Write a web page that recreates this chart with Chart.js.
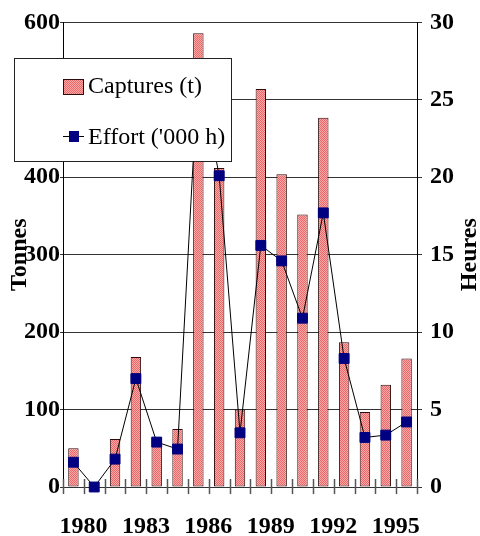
<!DOCTYPE html>
<html>
<head>
<meta charset="utf-8">
<script src="https://cdn.jsdelivr.net/npm/chart.js@4/dist/chart.umd.min.js"></script>
<style>
  html, body { margin: 0; padding: 0; background: #fff; }
  #wrap { position: relative; width: 480px; height: 536px; }
</style>
</head>
<body>
<div id="wrap"><canvas id="chart"></canvas></div>
<script>
'use strict';

// ── Data ─────────────────────────────────────────────────────────────────────
const years      = ['1980','1981','1982','1983','1984','1985','1986','1987','1988',
                    '1989','1990','1991','1992','1993','1994','1995','1996'];
const tickYears  = ['1980','1983','1986','1989','1992','1995'];
const captures   = [50, 0, 62, 168, 64, 75, 586, 412, 100, 514, 404, 352, 477, 187, 97, 132, 166];
const effort     = [1.6, 0, 1.8, 7.0, 2.9, 2.45, 27.2, 20.1, 3.5, 15.6, 14.6, 10.9, 17.7, 8.3, 3.2, 3.35, 4.2];
const leftTicks  = { min: 0, max: 600, step: 100 };
const rightTicks = { min: 0, max: 30, step: 5 };

const LABEL_CAPTURES = 'Captures (t)';
const LABEL_EFFORT   = "Effort ('000 h)";
const TITLE_LEFT     = 'Tonnes';
const TITLE_RIGHT    = 'Heures';

// ── Styles ───────────────────────────────────────────────────────────────────
const SERIF  = '"Liberation Serif", "Times New Roman", serif';
const NAVY   = '#000080';
const BAR_LN = '#2e0c0c';

function barPattern() {
  const c = document.createElement('canvas');
  c.width = 2; c.height = 2;
  const g = c.getContext('2d');
  g.fillStyle = '#ffa6a6'; g.fillRect(0, 0, 2, 2);
  g.fillStyle = '#e66a6a'; g.fillRect(0, 0, 1, 1); g.fillRect(1, 1, 1, 1);
  return g.createPattern(c, 'repeat');
}
const BAR_FILL = barPattern();

// ── Plugin: x tick marks, axis titles, legend box ────────────────────────────
const decorations = {
  id: 'decorations',
  afterDraw(chart) {
    const { ctx, chartArea, scales } = chart;
    const x = scales.x;
    ctx.save();

    // x tick marks crossing the axis, between categories
    const half = (x.getPixelForValue(1) - x.getPixelForValue(0)) / 2;
    ctx.strokeStyle = '#555';
    ctx.lineWidth = 1.5;
    for (let i = 0; i <= years.length; i++) {
      const px = Math.round(x.getPixelForValue(i) - half) + 0.5;
      ctx.beginPath();
      ctx.moveTo(px, chartArea.bottom - 8);
      ctx.lineTo(px, chartArea.bottom + 7);
      ctx.stroke();
    }

    // axis titles, both reading bottom to top
    const midY = (chartArea.top + chartArea.bottom) / 2;
    ctx.fillStyle = '#000';
    ctx.font = 'bold 24px ' + SERIF;
    ctx.textAlign = 'center';
    ctx.textBaseline = 'middle';
    [[20, TITLE_LEFT], [470, TITLE_RIGHT]].forEach(([tx, txt]) => {
      ctx.save();
      ctx.translate(tx, midY);
      ctx.rotate(-Math.PI / 2);
      ctx.fillText(txt, 0, 0);
      ctx.restore();
    });

    // legend box sitting over the plot
    ctx.fillStyle = '#fff';
    ctx.fillRect(14, 58, 217, 103);
    ctx.strokeStyle = '#222';
    ctx.lineWidth = 1;
    ctx.strokeRect(14.5, 58.5, 217, 103);

    ctx.fillStyle = BAR_FILL;
    ctx.fillRect(63, 79, 20, 15);
    ctx.strokeStyle = BAR_LN;
    ctx.strokeRect(63.5, 79.5, 20, 15);

    ctx.strokeStyle = '#000';
    ctx.beginPath();
    ctx.moveTo(63, 136.5);
    ctx.lineTo(84, 136.5);
    ctx.stroke();
    ctx.fillStyle = NAVY;
    ctx.fillRect(69, 131, 10, 11);

    ctx.fillStyle = '#000';
    ctx.font = '24px ' + SERIF;
    ctx.textAlign = 'left';
    ctx.textBaseline = 'alphabetic';
    ctx.fillText(chart.data.datasets[1].label, 88, 93);
    ctx.fillText(chart.data.datasets[0].label, 88, 144);

    ctx.restore();
  }
};

// ── Chart ────────────────────────────────────────────────────────────────────
new Chart(document.getElementById('chart'), {
  data: {
    labels: years,
    datasets: [
      {
        type: 'line',
        label: LABEL_EFFORT,
        data: effort,
        yAxisID: 'y2',
        order: 0,
        borderColor: '#000',
        borderWidth: 1,
        tension: 0,
        pointStyle: 'rect',
        pointRadius: 7,
        pointBackgroundColor: NAVY,
        pointBorderColor: NAVY,
        pointBorderWidth: 1,
        clip: false,
      },
      {
        type: 'bar',
        label: LABEL_CAPTURES,
        data: captures,
        yAxisID: 'y',
        order: 1,
        backgroundColor: BAR_FILL,
        borderColor: BAR_LN,
        borderWidth: 1,
        borderSkipped: false,
        categoryPercentage: 1,
        barPercentage: 0.5,
      },
    ],
  },
  options: {
    responsive: true,
    maintainAspectRatio: false,
    animation: false,
    devicePixelRatio: 1,
    layout: { padding: { top: 22, left: 0, right: 0, bottom: 0 } },
    plugins: { legend: { display: false }, tooltip: { enabled: false } },
    scales: {
      x: {
        offset: true,
        grid: { display: false, drawTicks: false },
        border: { display: false },
        ticks: {
          autoSkip: false,
          maxRotation: 0,
          padding: 25,
          labelOffset: 10,
          color: '#000',
          font: { family: SERIF, size: 24, weight: 'bold' },
          callback: (v, i) => tickYears.includes(years[i]) ? years[i] : '',
        },
        afterFit: s => { s.height = 49; },
      },
      y: {
        position: 'left',
        min: leftTicks.min,
        max: leftTicks.max,
        grid: { color: '#333', lineWidth: 1, tickLength: 3 },
        border: { color: '#000', width: 1 },
        ticks: {
          stepSize: leftTicks.step,
          padding: 0,
          color: '#000',
          font: { family: SERIF, size: 24, weight: 'bold' },
        },
        afterFit: s => { s.width = 63; },
      },
      y2: {
        position: 'right',
        min: rightTicks.min,
        max: rightTicks.max,
        grid: { drawOnChartArea: false, color: '#333', tickLength: 5 },
        border: { color: '#000', width: 1 },
        ticks: {
          stepSize: rightTicks.step,
          padding: 8,
          color: '#000',
          font: { family: SERIF, size: 24, weight: 'bold' },
        },
        afterFit: s => { s.width = 63; },
      },
    },
  },
  plugins: [decorations],
});
</script>
</body>
</html>
